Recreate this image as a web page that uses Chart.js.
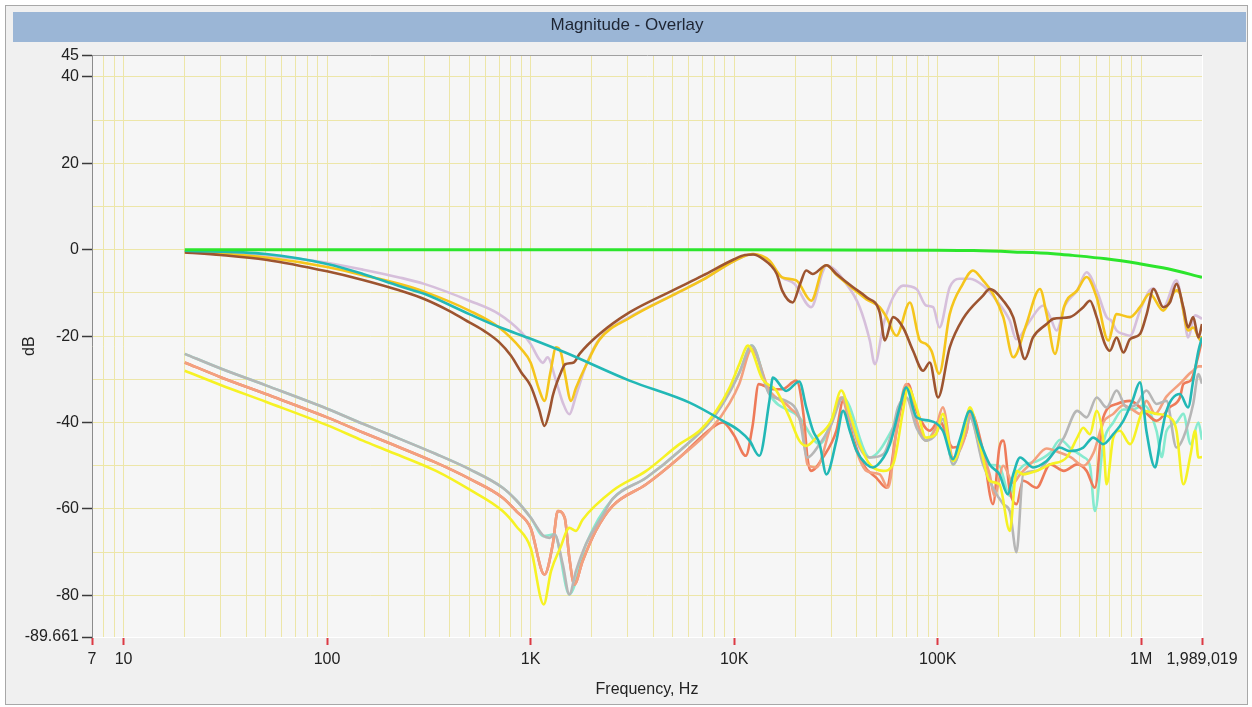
<!DOCTYPE html>
<html>
<head>
<meta charset="utf-8">
<title>Magnitude - Overlay</title>
<script src="https://cdn.jsdelivr.net/npm/chart.js@4.4.1/dist/chart.umd.min.js"></script>
<style>
  html, body { margin: 0; padding: 0; background: #ffffff; }
  canvas { display: block; }
</style>
</head>
<body>
<canvas id="myChart" width="1252" height="707"></canvas>
<script>
const greenHz = [20, 1000, 10000, 100000, 150000, 235000, 370000, 460000, 670000, 970000, 1350000, 1989019];
const greenDb = [0, 0, 0, -0.1, -0.2, -0.5, -0.9, -1.3, -2.1, -3.2, -4.4, -6.4];

const brownHz = [20, 30, 50, 100, 150, 226, 300, 400, 500, 600, 700, 800, 900, 1000, 1100, 1170, 1240, 1285, 1410, 1480,
  1630, 1740, 2180, 3060, 5000, 7000, 10000, 11300, 12400, 13800, 16200, 17200, 19400, 21100, 22600, 24300, 28400, 31800, 38400, 44700,
  51900, 55000, 60400, 67600, 75700, 84800, 91400, 100400, 114600, 133000, 167000, 180000, 210000, 235000, 249000, 268000, 294000, 343000, 369000, 446000,
  519000, 560000, 604000, 663000, 701000, 757000, 817000, 881000, 986000, 1064000, 1150000, 1283000, 1384000, 1490000, 1610000, 1700000, 1800000, 1910000, 1989019];
const brownDb = [-0.6, -1.2, -2.3, -5.0, -7.0, -9.4, -11.4, -14.2, -16.8, -19.0, -21.4, -24.5, -28.4, -31.5, -36.9, -40.8, -37.3, -33.8, -28.4, -26.5,
  -26.1, -24.1, -19.5, -14.5, -9.4, -6.0, -2.2, -1.2, -1.1, -2.1, -5.6, -9.4, -12.2, -7.9, -4.8, -5.6, -3.6, -5.6, -8.7, -11.0,
  -14.5, -21.0, -15.6, -18.0, -23.4, -28.0, -26.1, -34.2, -22.6, -16.0, -10.6, -9.1, -11.8, -15.6, -20.3, -25.3, -20.3, -17.2, -16.0, -15.6,
  -13.3, -11.8, -15.6, -21.8, -23.4, -20.3, -23.8, -20.7, -19.5, -14.9, -9.1, -13.3, -12.2, -7.9, -13.3, -18.0, -15.6, -20.3, -17.2];

const goldHz = [20, 30, 50, 100, 150, 226, 300, 500, 700, 900, 1000, 1100, 1170, 1250, 1334, 1410, 1480, 1580, 1670, 1870,
  2180, 3060, 5000, 7000, 10000, 12400, 14900, 17200, 20200, 23900, 27300, 28400, 31800, 38400, 44700, 51900, 56000, 62700, 73000, 81700,
  87600, 93200, 101700, 114600, 133000, 149000, 167000, 187000, 210000, 235000, 244000, 273000, 318000, 343000, 377000, 417000, 485000, 539000, 604000, 689000,
  757000, 881000, 986000, 1100000, 1283000, 1490000, 1550000, 1700000, 1800000, 1960000, 1989019];
const goldDb = [-0.5, -0.9, -1.8, -4.0, -5.9, -7.9, -9.7, -14.1, -18, -23, -26.1, -32.3, -35, -28.5, -22.6, -23.8, -29.2, -35, -32, -26.8,
  -20.8, -15.8, -10.5, -7, -2.6, -1.0, -2.5, -6.4, -7.1, -11.8, -4.1, -3.6, -5.8, -9, -11.5, -13.3, -15.6, -19.9, -12.2, -21,
  -21.8, -23.4, -28.7, -14.9, -7.9, -4.8, -7.1, -10.2, -15.6, -24.9, -24.1, -17.2, -9.1, -14.9, -24.1, -13.3, -9.4, -6.3, -11, -21,
  -14.9, -15.6, -13.3, -10.2, -14.1, -9.4, -10.2, -18.7, -18, -21, -20];

const thistleHz = [20, 30, 50, 100, 150, 226, 300, 500, 700, 900, 1000, 1100, 1150, 1210, 1340, 1440, 1550, 1670, 1870, 2180,
  3060, 5000, 7000, 10000, 12400, 14600, 17200, 19800, 23900, 27300, 28400, 35600, 41400, 46400, 49100, 54200, 60400, 67600, 78700, 87600,
  95000, 102000, 114600, 128000, 144000, 167000, 195000, 226000, 243000, 284000, 330000, 357000, 384000, 422000, 485000, 539000, 604000, 676000, 713000, 757000,
  817000, 881000, 986000, 1100000, 1150000, 1283000, 1490000, 1610000, 1700000, 1840000, 1989019];
const thistleDb = [-0.3, -0.6, -1.3, -3.0, -4.6, -6.4, -7.9, -11.8, -14.9, -19.1, -21.8, -25.3, -26.2, -24.9, -30.7, -35.4, -38.1, -33.8, -26.8, -20.6,
  -15.6, -10.5, -7, -2.6, -1.0, -2.5, -6.4, -7.9, -13.3, -5, -3.6, -7.9, -13.3, -21, -26.5, -17.2, -11, -8.3, -9.1, -12.9,
  -13.3, -18, -8.7, -6.7, -6.7, -8.3, -11.8, -16.4, -20.7, -16.4, -12.9, -15.6, -18.7, -12.9, -9.4, -5.2, -9.4, -15.6, -16.4, -18.7,
  -19.5, -19.9, -14.1, -9.4, -8.9, -13.3, -7.1, -14.1, -20.3, -15.2, -16];

const tealHz = [20, 50, 100, 150, 226, 300, 500, 700, 1000, 1480, 3060, 6040, 8800, 10600, 11900, 13300, 14900, 15500, 18000, 20900,
  22600, 24400, 26300, 28400, 31800, 34300, 37000, 40000, 44700, 48100, 54200, 58300, 65100, 70000, 78700, 91400, 106000, 119000, 128000, 144000,
  161000, 180000, 201000, 221000, 235000, 254000, 294000, 343000, 398000, 446000, 519000, 581000, 651000, 729000, 817000, 905000, 986000, 1060000, 1170000, 1240000,
  1330000, 1550000, 1700000, 1800000, 1910000, 1989019];
const tealDb = [-0.2, -1.0, -3.3, -5.6, -8.4, -10.2, -14.9, -17.9, -20.6, -23.8, -30.3, -35.4, -39.6, -41.9, -44.2, -47.7, -35, -29.6, -32.7, -30.5,
  -36.5, -41.9, -45, -52, -44.2, -37.3, -41.9, -46.6, -49.7, -50.4, -48.1, -45, -36.5, -31.9, -38.8, -39.6, -41.9, -48.5, -44.2, -37.3,
  -44.2, -49.7, -52, -56.6, -52, -48.1, -50.4, -48.9, -45.8, -46.6, -45.8, -43.5, -45, -42.7, -39.6, -35, -30.7, -41.9, -50.4, -44.2,
  -37.3, -33.4, -36.5, -30.3, -23.4, -20.3];

const grayHz = [20, 30, 50, 100, 150, 200, 343, 500, 729, 850, 1000, 1160, 1240, 1310, 1440, 1550, 1670, 1870, 2260, 2530,
  3700, 5390, 7800, 9500, 10600, 12200, 14900, 18000, 20900, 22900, 26300, 30000, 34300, 37000, 41400, 46400, 54200, 60400, 63800, 70000,
  78700, 87600, 98000, 106000, 119000, 139000, 144000, 167000, 210000, 226000, 244000, 263000, 306000, 357000, 417000, 485000, 539000, 604000, 676000, 757000,
  848000, 950000, 1060000, 1190000, 1330000, 1490000, 1610000, 1800000, 1910000, 1989019];
const grayDb = [-24.1, -27.5, -31.4, -36.8, -40.3, -42.7, -47.3, -50.8, -55.1, -58, -62, -66.3, -66.7, -65.9, -72.9, -79.8, -74.4, -68.2, -61.5, -57.7,
  -52.8, -46.6, -39.2, -33, -28.5, -22.2, -33.4, -35, -38.8, -48.1, -45, -40.4, -34.2, -38.8, -45.8, -48.1, -47.3, -41.2, -36.5, -34.2,
  -41.2, -44.2, -42.7, -39.2, -49.7, -40.4, -38.8, -49.7, -58.9, -60.5, -70, -52, -51.2, -48.1, -43.5, -37.3, -38.8, -34.2, -36.5, -32.6,
  -36.5, -35.7, -32.6, -35.7, -35, -45.8, -43.5, -35.7, -28.8, -31];

const yellowHz = [20, 30, 50, 100, 150, 200, 343, 500, 729, 850, 1000, 1160, 1260, 1400, 1550, 1670, 1800, 2530, 3700, 5390,
  6760, 8170, 9500, 10600, 11700, 13800, 16100, 18700, 20900, 22600, 25300, 30000, 33600, 37000, 41400, 46400, 54000, 60400, 67600, 71500,
  78700, 87600, 98000, 106000, 119000, 133000, 144000, 161000, 180000, 201000, 226000, 244000, 263000, 306000, 357000, 430000, 485000, 519000, 560000, 604000,
  651000, 676000, 729000, 785000, 881000, 1030000, 1190000, 1380000, 1490000, 1610000, 1750000, 1840000, 1910000, 1989019];
const yellowDb = [-28, -31.3, -35.2, -40.6, -44.2, -46.6, -51.2, -55.5, -60.5, -64, -69, -82.1, -74.4, -69, -64.4, -65.1, -62.5, -55.8, -51.2, -45,
  -41.9, -37.3, -31.9, -26.5, -22.2, -30, -32.6, -38.8, -44.2, -45.4, -43.5, -39.6, -32.6, -38, -45, -49.7, -51.2, -49.7, -37.3, -31.9,
  -36.5, -43.5, -42.7, -38, -48.9, -43.5, -36.5, -45, -53.5, -54.3, -65.1, -51.2, -52, -51.2, -49.7, -48.1, -43.5, -41.2, -42.7, -37.3,
  -44.2, -54.3, -43.5, -41.9, -45, -37.3, -38, -38.8, -41.9, -54.3, -47.3, -41.9, -48.1, -48];

const salmonHz = [20, 30, 50, 100, 150, 200, 343, 500, 729, 850, 1000, 1170, 1285, 1360, 1470, 1550, 1640, 1800, 2090, 2530,
  3700, 5390, 7800, 9500, 10600, 12200, 14900, 18700, 21800, 22900, 25300, 30000, 33600, 38400, 44700, 51900, 57000, 62800, 70000, 78700,
  87600, 98000, 106000, 119000, 139000, 144000, 161000, 180000, 190000, 210000, 235000, 254000, 294000, 343000, 400000, 450000, 520000, 583000, 651000, 729000,
  817000, 905000, 986000, 1060000, 1170000, 1330000, 1550000, 1700000, 1800000, 1910000, 1989019];
const salmonDb = [-26.1, -29.5, -33.4, -38.8, -42.3, -44.7, -49.3, -53, -57.4, -60.5, -64.4, -75.2, -68.2, -60.5, -62, -71.3, -77.5, -72.1, -65.1, -59.3,
  -54.3, -48.1, -41.2, -35.5, -31, -23, -32.6, -36.5, -41.9, -49.7, -50.4, -40.4, -34.2, -44.2, -51.2, -52, -55.1, -41.9, -31.1, -39.6,
  -44.2, -41.2, -36.5, -48.1, -41.9, -38, -45, -52, -57, -50, -54, -52, -49, -46, -47, -48, -50, -47, -40, -38,
  -36, -37, -38, -35, -38, -34, -31, -29, -28, -27, -27];

const coralHz = [20, 30, 50, 100, 150, 200, 343, 500, 729, 850, 1000, 1170, 1285, 1360, 1470, 1550, 1640, 1800, 2090, 2530,
  3700, 5390, 7800, 8800, 10000, 11400, 12300, 13200, 15500, 17200, 20200, 22000, 22900, 23800, 27300, 31800, 34300, 38400, 43000, 50000,
  56000, 62800, 71500, 78700, 91400, 101700, 119000, 139000, 144000, 167000, 187000, 201000, 210000, 226000, 244000, 263000, 306000, 357000, 417000, 485000,
  539000, 592000, 651000, 757000, 881000, 1030000, 1190000, 1380000, 1550000, 1610000, 1750000, 1880000, 1989019];
const coralDb = [-26.1, -29.5, -33.4, -38.8, -42.3, -44.7, -49.3, -53, -57.4, -60.5, -64.4, -75.2, -68.2, -60.5, -62, -71.3, -77.5, -72.1, -65.1, -59.3,
  -54.3, -48.1, -41.2, -40, -43, -47.7, -41, -31.1, -32.3, -32.3, -30.3, -38.8, -48.1, -51.2, -48.1, -41.9, -35, -43.5, -49.7, -52.8,
  -55.1, -41.9, -31.1, -37.3, -41.9, -39.6, -45.8, -41.9, -37.3, -46.6, -58.9, -45.8, -44.2, -55.8, -58.9, -53.5, -55.1, -49.7, -51.2, -49.7,
  -51.2, -55.1, -38.8, -35.7, -35, -37.3, -39.6, -36.5, -34.2, -31.1, -30.3, -25.7, -20.8];

const aquaHz = [20, 30, 50, 100, 150, 200, 343, 500, 729, 850, 1000, 1160, 1310, 1550, 1870, 2530, 3700, 5390, 7800, 10600,
  12200, 14900, 20900, 26300, 34300, 46400, 60400, 70000, 87600, 106000, 119000, 144000, 172000, 200000, 226000, 244000, 263000, 306000, 357000, 400000,
  450000, 520000, 560000, 592000, 651000, 729000, 817000, 905000, 1030000, 1190000, 1260000, 1330000, 1490000, 1610000, 1750000, 1910000, 1989019];
const aquaDb = [-24.1, -27.5, -31.4, -36.8, -40.3, -42.7, -47.3, -50.8, -55.1, -58, -62, -66.3, -65.9, -79.8, -68.2, -57.7, -52.8, -46.6, -39.2, -28.5,
  -22.2, -33.4, -38.8, -45, -34.2, -48.1, -41.2, -34.2, -44.2, -39.2, -49.7, -38.8, -49.7, -50, -57, -52, -50, -49, -47, -44,
  -46, -48, -50, -60.5, -45, -40, -37, -37, -36, -42, -48, -42, -40, -38, -45, -40, -44];

// axis ticks: grid at every 1..9 x decade, labels only on a few
const xGridHz = [7, 8, 9];
for (let d = 10; d <= 1000000; d *= 10) {
  for (let m = 1; m <= 9; m++) if (m * d <= 1000000) xGridHz.push(m * d);
}
xGridHz.push(1989019);
const xTickText = { 7: '7', 10: '10', 100: '100', 1000: '1K', 10000: '10K', 100000: '100K', 1000000: '1M', 1989019: '1,989,019' };

const yGridDb = [-89.661, -80, -70, -60, -50, -40, -30, -20, -10, 0, 10, 20, 30, 40, 45];
const yTickText = [-89.661, -80, -60, -40, -20, 0, 20, 40, 45];

const FONT = "'Liberation Sans', Arial, sans-serif";
const GRID = '#ede6a8';

function pts(hz, db) {
  return hz.map((f, i) => ({ x: f, y: db[i] }));
}

// first entry is drawn on top
const traces = [
  [greenHz, greenDb, '#2ce52c', 3],
  [tealHz, tealDb, '#22b8b6', 2.6],
  [brownHz, brownDb, '#9d5430', 2.6],
  [goldHz, goldDb, '#f5c51c', 2.6],
  [thistleHz, thistleDb, '#d6bfdb', 2.6],
  [yellowHz, yellowDb, '#f6f224', 2.6],
  [grayHz, grayDb, '#b6b6b6', 2.6],
  [salmonHz, salmonDb, '#f3a07f', 2.6],
  [coralHz, coralDb, '#ee7a59', 2.6],
  [aquaHz, aquaDb, '#86eacf', 2.6]
];

const frame = {
  id: 'frame',
  beforeDraw(chart) {
    const { ctx, chartArea: a } = chart;
    ctx.save();
    ctx.fillStyle = '#f0f0f0';
    ctx.fillRect(5, 5, 1243, 700);
    ctx.strokeStyle = '#a8a8a8';
    ctx.lineWidth = 1;
    ctx.strokeRect(5.5, 5.5, 1242, 699);
    ctx.fillStyle = '#9bb6d6';
    ctx.fillRect(13, 12, 1233, 30);
    ctx.fillStyle = '#f6f6f6';
    ctx.fillRect(a.left, a.top, a.right - a.left, a.bottom - a.top);
    ctx.restore();
  }
};

const ctx = document.getElementById('myChart').getContext('2d');
const myChart = new Chart(ctx, {
  type: 'line',
  data: {
    datasets: traces.map(t => ({
      data: pts(t[0], t[1]),
      borderColor: t[2],
      backgroundColor: t[2],
      borderWidth: t[3],
      pointRadius: 0,
      cubicInterpolationMode: 'monotone',
      fill: false,
      borderJoinStyle: 'round'
    }))
  },
  options: {
    responsive: false,
    animation: false,
    events: [],
    layout: { padding: { left: 12, right: 10, top: 0, bottom: 0 } },
    plugins: {
      legend: { display: false },
      tooltip: { enabled: false },
      title: {
        display: true,
        text: 'Magnitude - Overlay',
        color: '#1e2533',
        font: { family: FONT, size: 17, weight: 'normal' },
        padding: { top: 15, bottom: 20 }
      }
    },
    scales: {
      x: {
        type: 'logarithmic',
        min: 7,
        max: 1989019,
        afterBuildTicks: s => { s.ticks = xGridHz.map(v => ({ value: v })); },
        afterFit: s => { s.height = 70; s.paddingRight = 50; },
        ticks: {
          autoSkip: false,
          maxRotation: 0,
          minRotation: 0,
          padding: 5,
          color: '#222',
          font: { family: FONT, size: 16 },
          callback: v => xTickText[v] || ''
        },
        grid: {
          color: c => (c.tick && c.tick.value === 1989019) ? '#ffffff' : GRID,
          tickColor: c => (c.tick && xTickText[c.tick.value]) ? '#dc3a44' : 'rgba(0,0,0,0)',
          tickLength: 8,
          tickWidth: 2,
          lineWidth: 1
        },
        border: { display: true, color: '#ffffff', width: 1 },
        title: {
          display: true,
          text: 'Frequency, Hz',
          color: '#222',
          font: { family: FONT, size: 16 },
          padding: { top: 0, bottom: 8 }
        }
      },
      y: {
        min: -89.661,
        max: 45,
        afterBuildTicks: s => { s.ticks = yGridDb.map(v => ({ value: v })); },
        afterFit: s => { s.width = 80; },
        ticks: {
          padding: 3,
          color: '#222',
          font: { family: FONT, size: 16 },
          callback: v => yTickText.includes(v) ? String(v) : ''
        },
        grid: {
          color: c => {
            if (!c.tick) return GRID;
            if (c.tick.value === 45) return '#a0a0a0';
            if (c.tick.value === -89.661) return '#ffffff';
            return GRID;
          },
          tickColor: c => (c.tick && yTickText.includes(c.tick.value)) ? '#3a3a3a' : 'rgba(0,0,0,0)',
          tickLength: 10,
          tickWidth: 1.5,
          lineWidth: 1
        },
        border: { display: true, color: '#8c8c8c', width: 1 },
        title: {
          display: true,
          text: 'dB',
          color: '#222',
          font: { family: FONT, size: 16 },
          padding: { top: 8, bottom: 0 }
        }
      }
    }
  },
  plugins: [frame]
});
</script>
</body>
</html>
